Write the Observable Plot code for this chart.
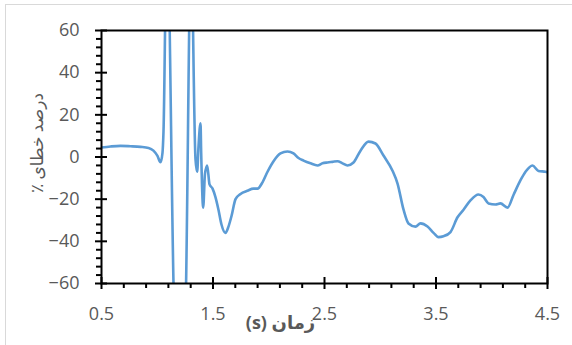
<!DOCTYPE html>
<html>
<head>
<meta charset="utf-8">
<script src="https://cdn.jsdelivr.net/npm/d3@7"></script>
<script src="https://cdn.jsdelivr.net/npm/@observablehq/plot@0.6"></script>
<style>
  html, body { margin: 0; padding: 0; background: #fff; overflow: hidden; }
  #wrap { position: relative; width: 572px; height: 345px; }
  #border { position: absolute; left: 5px; top: 4px; width: 600px; height: 400px; border: 1.5px solid #d9d9d9; box-sizing: border-box; }
  #chart { position: absolute; left: 0; top: 0; }
</style>
</head>
<body>
<div id="wrap"><div id="border"></div><div id="chart"></div></div>
<script>
// time (s)
const times = [0.5, 0.581, 0.670, 0.760, 0.850, 0.922, 0.966, 1.002, 1.029, 1.047, 1.056,
  1.087, 1.150, 1.200, 1.255, 1.303, 1.343, 1.358, 1.370, 1.388, 1.394, 1.412, 1.428, 1.448,
  1.469, 1.496, 1.522, 1.549, 1.576, 1.612, 1.639, 1.666, 1.702, 1.747, 1.809, 1.863, 1.899,
  1.944, 1.989, 2.043, 2.105, 2.168, 2.222, 2.267, 2.312, 2.374, 2.437, 2.482, 2.527, 2.572,
  2.617, 2.661, 2.706, 2.760, 2.823, 2.895, 2.957, 3.029, 3.110, 3.155, 3.209, 3.253, 3.316,
  3.361, 3.424, 3.478, 3.522, 3.567, 3.630, 3.693, 3.747, 3.809, 3.881, 3.926, 3.971, 4.033,
  4.078, 4.141, 4.195, 4.258, 4.303, 4.365, 4.419, 4.482, 4.5];
// error percent
const errors = [4.5, 5, 5.3, 5.1, 4.8, 4.3, 3.0, 0.5, -2.5, 2, 12,
  110, -70, -130, -70, 100, -1, -7, 5, 16, 2, -24, -8, -4,
  -13, -15, -19, -25, -32, -36, -33, -28, -20, -17.5, -16, -15, -15,
  -12, -7, -2, 1.7, 2.6, 1.7, -0.5, -1.7, -3, -4, -3, -2.6, -2.3,
  -2, -3, -4, -2.6, 3, 7.3, 6.4, 0.7, -6.5, -12.6, -25, -31.5, -33,
  -31.5, -33, -36, -38, -37.6, -35.6, -28.6, -25, -20.6, -17.8, -19, -22, -22.5,
  -22, -24, -18, -11, -7, -4, -6.6, -7, -7.2];

const xMajor = [0.5, 1.5, 2.5, 3.5, 4.5];
const xMinor = [0.7, 0.9, 1.1, 1.3, 1.7, 1.9, 2.1, 2.3, 2.7, 2.9, 3.1, 3.3, 3.7, 3.9, 4.1, 4.3];
const yMajor = [-60, -40, -20, 0, 20, 40, 60];
const yMinor = d3.range(-56, 60, 4).filter(v => v % 20 !== 0);
const xTitle = "زمان (s)";
const yTitle = "درصد خطای ٪";

const data = times.map((t, i) => ({t, e: errors[i]}));
const gray = "#595959";

const chart = Plot.plot({
  width: 572,
  height: 345,
  marginLeft: 101,
  marginRight: 25,
  marginTop: 30,
  marginBottom: 62,
  style: {fontSize: "18px", fontFamily: "'Open Sans', 'DejaVu Sans', sans-serif", background: "transparent", color: gray},
  x: {domain: [0.5, 4.5]},
  y: {domain: [-60, 60]},
  marks: [
    Plot.line(data, {x: "t", y: "e", stroke: "#5B9BD5", strokeWidth: 2.6, strokeLinejoin: "round", curve: "monotone-x", clip: true}),
    Plot.frame({stroke: "black", strokeWidth: 2}),
    Plot.axisX({ticks: xMajor, tickSize: 12, dy: -6, stroke: "black", strokeWidth: 2, strokeOpacity: 1, text: null, label: null}),
    Plot.axisX({ticks: xMinor, tickSize: 5, stroke: "black", strokeWidth: 2, strokeOpacity: 1, text: null, label: null}),
    Plot.axisX({ticks: xMajor, tickSize: 0, tickPadding: 24, fill: gray, label: null, tickFormat: d => String(d)}),
    Plot.axisY({ticks: yMajor, tickSize: 12, dx: 6, stroke: "black", strokeWidth: 2, strokeOpacity: 1, text: null, label: null}),
    Plot.axisY({ticks: yMinor, tickSize: 5, stroke: "black", strokeWidth: 2, strokeOpacity: 1, text: null, label: null}),
    Plot.axisY({ticks: yMajor, tickSize: 0, tickPadding: 22, fill: gray, label: null}),
    Plot.text([xTitle], {frameAnchor: "bottom", dx: -44, dy: 40, fill: gray, fontWeight: "bold", fontSize: 18, lineAnchor: "middle"}),
    Plot.text([yTitle], {frameAnchor: "left", rotate: -90, dx: -64, dy: -64, fill: gray, fontSize: 17, lineAnchor: "middle"})
  ]
});
d3.select(chart).selectAll("text").filter(function() {
  const s = this.textContent;
  return s === xTitle || s === yTitle;
}).attr("direction", "rtl").style("unicode-bidi", "embed");
document.getElementById("chart").appendChild(chart);
</script>
</body>
</html>
